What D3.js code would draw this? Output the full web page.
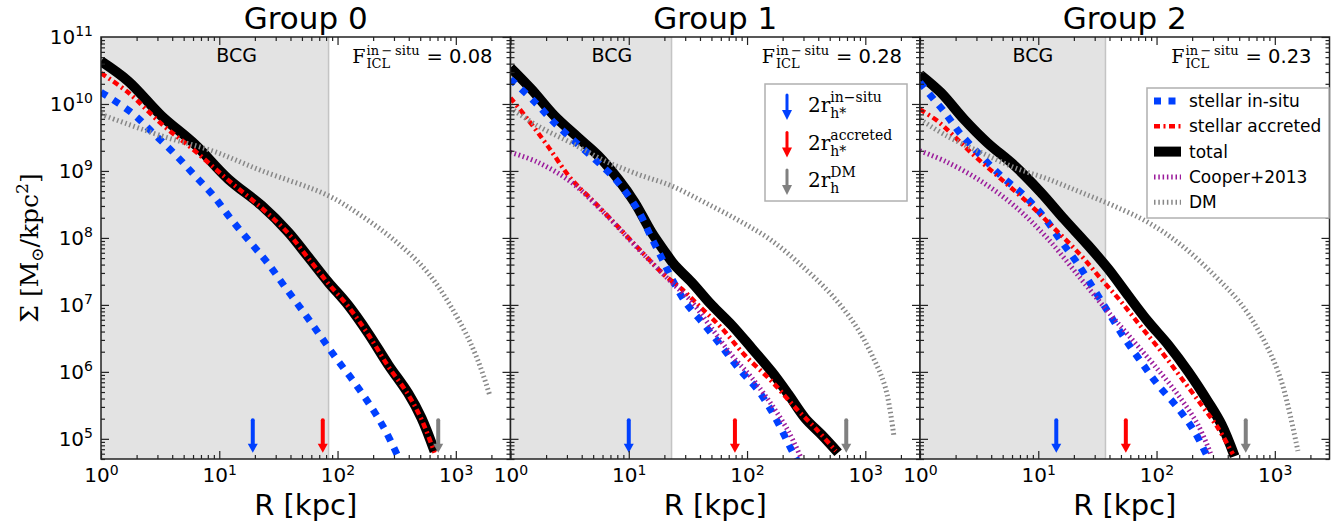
<!DOCTYPE html>
<html>
<head>
<meta charset="utf-8">
<script src="https://d3js.org/d3.v7.min.js"></script>
<style>
body { margin: 0; background: #fff; }
text { font-family: "DejaVu Sans", sans-serif; fill: #000; }
.serif { font-family: "DejaVu Serif", serif; }
</style>
</head>
<body>
<svg id="chart" width="1336" height="522"></svg>
<script>
// ---- data ----
const groupNames = ["Group 0", "Group 1", "Group 2"];
const ficlInSitu = ["0.08", "0.28", "0.23"];
const bcgRadius = [84, 23, 37];          // kpc, edge of shaded BCG region
const bcgLabelR = [14, 7.2, 9];          // kpc
const rInSituArrow = [19.2, 10, 14.2];
const rAccretedArrow = [75, 79, 55];
const rDMArrow = [710, 690, 568];
const xTicks = [1, 10, 100, 1000];
const yTicks = [1e5, 1e6, 1e7, 1e8, 1e9, 1e10, 1e11];

// Group 0
const totalR0 = [1, 1.70, 3.26, 6.2, 11.9, 22.8, 38.3, 56.5, 83.2, 123, 182, 269, 395, 513, 661];
const totalS0 = [4.35e10, 2.19e10, 6.6e9, 2.51e9, 7.6e8, 3.04e8, 1.22e8, 5.2e7, 2.2e7, 9.9e6, 3.75e6, 1.27e6, 4.8e5, 2.04e5, 6.5e4];
const insituR0 = [1, 1.82, 2.75, 4.22, 6.22, 8.9, 12.6, 18.2, 25.7, 35.9, 51.3, 70.8, 97.7, 140, 195, 251, 324];
const insituS0 = [1.5e10, 7.4e9, 3.7e9, 1.78e9, 8.5e8, 4.3e8, 1.9e8, 8.7e7, 4.2e7, 1.86e7, 7.9e6, 3.55e6, 1.58e6, 6.8e5, 2.9e5, 1.38e5, 5.5e4];
const accretedR0 = [1, 1.70, 3.26, 6.2, 11.9, 22.8, 38.3, 56.5, 83.2, 123, 182, 269, 395, 513, 661];
const accretedS0 = [2.9e10, 1.48e10, 5.0e9, 2.0e9, 7.3e8, 2.8e8, 1.17e8, 5.0e7, 2.1e7, 9.5e6, 3.6e6, 1.2e6, 4.6e5, 1.95e5, 6.2e4];
const dmR0 = [1, 3.26, 8.7, 22.8, 83.2, 158, 305, 589, 1117, 1549, 1950];
const dmS0 = [7.0e9, 3.33e9, 2.0e9, 1.01e9, 4.3e8, 2.16e8, 9.1e7, 2.93e7, 5.0e6, 1.43e6, 4.3e5];

// Group 1
const totalR1 = [1, 1.50, 2.36, 3.72, 5.50, 8.1, 11.2, 15.5, 20.2, 24.5, 33.9, 50.1, 74.1, 110, 162, 224, 309, 427, 589];
const totalS1 = [3.47e10, 1.66e10, 6.6e9, 3.16e9, 1.7e9, 7.6e8, 3.4e8, 1.23e8, 6.2e7, 3.9e7, 2.19e7, 1.0e7, 5.0e6, 2.24e6, 1.0e6, 4.6e5, 2.04e5, 1.15e5, 6.2e4];
const insituR1 = [1, 1.58, 2.36, 3.60, 5.50, 8.1, 12.0, 15.5, 18.9, 22.4, 29.9, 43.7, 61.0, 85.1, 126, 174, 240, 270];
const insituS1 = [2.34e10, 1.10e10, 5.2e9, 2.63e9, 1.35e9, 6.8e8, 2.57e8, 1.02e8, 5.1e7, 2.75e7, 1.12e7, 5.0e6, 2.4e6, 1.12e6, 5.1e5, 2.04e5, 6.6e4, 4.5e4];
const accretedR1 = [1, 1.40, 2.07, 3.26, 5.13, 8.7, 13.7, 20.2, 27.9, 41.3, 61.0, 95.5, 162, 257, 377, 562];
const accretedS1 = [1.23e10, 5.9e9, 2.34e9, 7.6e8, 3.4e8, 1.29e8, 5.5e7, 2.75e7, 1.74e7, 8.9e6, 4.5e6, 1.78e6, 7.2e5, 2.9e5, 1.45e5, 6.6e4];
const cooperR1 = [1, 1.70, 3.26, 6.3, 12.0, 22.9, 33.9, 50.1, 74.1, 110, 162, 224, 282];
const cooperS1 = [1.9e9, 1.35e9, 6.8e8, 2.29e8, 6.9e7, 2.19e7, 1.12e7, 4.5e6, 1.78e6, 8.1e5, 3.2e5, 1.29e5, 5.5e4];
const dmR1 = [1, 1.70, 3.26, 6.3, 12.0, 22.9, 43.7, 85.1, 162, 309, 525, 822, 1138, 1479, 1738];
const dmS1 = [8.7e9, 4.7e9, 2.63e9, 1.41e9, 8.9e8, 6.0e8, 3.4e8, 1.82e8, 9.1e7, 3.47e7, 1.38e7, 5.0e6, 1.78e6, 5.8e5, 1.15e5];

// Group 2
const totalR2 = [1, 1.50, 2.36, 3.72, 6.3, 10.5, 16.6, 26.3, 38.9, 57.5, 85.1, 126, 186, 272, 355, 457];
const totalS2 = [2.75e10, 1.48e10, 5.9e9, 2.63e9, 1.2e9, 4.8e8, 1.9e8, 7.8e7, 3.47e7, 1.38e7, 5.6e6, 2.51e6, 1.0e6, 3.6e5, 1.62e5, 5.5e4];
const insituR2 = [1, 1.31, 1.58, 1.88, 2.21, 3.26, 4.83, 7.6, 11.2, 15.5, 21.4, 29.9, 38.9, 53.7, 74.1, 102, 151, 209, 272];
const insituS2 = [2.09e10, 1.17e10, 7.9e9, 5.2e9, 3.55e9, 1.7e9, 8.5e8, 4.3e8, 2.04e8, 9.1e7, 4.2e7, 1.66e7, 7.9e6, 3.16e6, 1.41e6, 6.5e5, 2.9e5, 1.29e5, 5.2e4];
const accretedR2 = [1, 1.40, 1.94, 2.87, 4.83, 8.1, 13.7, 22.9, 33.9, 50.1, 74.1, 110, 162, 240, 331, 442];
const accretedS2 = [8.3e9, 5.6e9, 3.3e9, 1.7e9, 7.6e8, 3.4e8, 1.38e8, 5.5e7, 2.45e7, 1.12e7, 4.7e6, 2.0e6, 8.1e5, 3.2e5, 1.45e5, 5.9e4];
const cooperR2 = [1, 1.70, 3.26, 6.3, 12.0, 22.9, 38.9, 61.0, 95.5, 151, 224, 288];
const cooperS2 = [2.0e9, 1.35e9, 7.1e8, 3.0e8, 9.8e7, 2.45e7, 7.9e6, 3.16e6, 1.26e6, 4.6e5, 1.62e5, 5.9e4];
const dmR2 = [1, 1.70, 3.26, 6.3, 12.0, 22.9, 43.7, 85.1, 162, 309, 525, 822, 1138, 1567];
const dmS2 = [5.9e9, 3.3e9, 1.9e9, 1.12e9, 7.6e8, 4.8e8, 3.0e8, 1.7e8, 7.8e7, 2.75e7, 1.0e7, 2.8e6, 7.2e5, 6.6e4];

const zip = (a, b) => a.map((v, i) => [v, b[i]]);
const groups = [
  { total: zip(totalR0, totalS0), insitu: zip(insituR0, insituS0), accreted: zip(accretedR0, accretedS0), cooper: null, dm: zip(dmR0, dmS0) },
  { total: zip(totalR1, totalS1), insitu: zip(insituR1, insituS1), accreted: zip(accretedR1, accretedS1), cooper: zip(cooperR1, cooperS1), dm: zip(dmR1, dmS1) },
  { total: zip(totalR2, totalS2), insitu: zip(insituR2, insituS2), accreted: zip(accretedR2, accretedS2), cooper: zip(cooperR2, cooperS2), dm: zip(dmR2, dmS2) }
];

const styles = {
  total:    { color: "#000000", width: 10, dash: null },
  insitu:   { color: "#0040ff", width: 7, dash: "7,7.5" },
  accreted: { color: "#ff0000", width: 4.5, dash: "6,3.5,2,3.5" },
  cooper:   { color: "#9b1b9b", width: 5, dash: "1.5,2.8" },
  dm:       { color: "#888888", width: 5, dash: "1.5,2.8" }
};
const drawOrder = ["total", "insitu", "accreted", "cooper", "dm"];

// ---- layout ----
const svg = d3.select("#chart");
const plotTop = 37, plotBottom = 459, left0 = 101, pw = 409.5;
const y = d3.scaleLog().domain([5e4, 1e11]).range([plotBottom, plotTop]);

const yMinor = [];
for (let e = 4; e <= 10; e++) for (let k = 2; k <= 9; k++) { const v = k * Math.pow(10, e); if (v >= 5e4) yMinor.push(v); }
const xMinor = [];
for (let e = 0; e <= 3; e++) for (let k = 2; k <= 9; k++) { const v = k * Math.pow(10, e); if (v <= 2900) xMinor.push(v); }

function supLabels(sel, anchor) {
  sel.each(function(d) {
    const t = d3.select(this);
    t.text(null).attr("text-anchor", anchor).style("font-size", "20px").style("font-family", "DejaVu Sans");
    t.append("tspan").text("10");
    t.append("tspan").attr("dy", "-0.55em").style("font-size", "14px").text(Math.round(Math.log10(d)));
  });
}

function styleAxis(g) {
  g.select(".domain").remove();
  g.selectAll(".tick line").attr("stroke", "#222").attr("stroke-width", 1.2);
}

function arrow(g, cx, y1, y2, color, sw, hw, hh) {
  g.append("line").attr("x1", cx).attr("x2", cx).attr("y1", y1).attr("y2", y2 - hh + 1)
    .attr("stroke", color).attr("stroke-width", sw).attr("stroke-linecap", "round");
  g.append("path").attr("d", `M${cx - hw / 2},${y2 - hh}L${cx + hw / 2},${y2 - hh}L${cx},${y2}Z`).attr("fill", color);
}

groups.forEach((grp, i) => {
  const x0 = left0 + i * pw;
  const x = d3.scaleLog().domain([1, 2900]).range([x0, x0 + pw]);
  const g = svg.append("g");

  // clip
  svg.append("clipPath").attr("id", "clip" + i)
    .append("rect").attr("x", x0).attr("y", plotTop).attr("width", pw).attr("height", plotBottom - plotTop);
  const plot = g.append("g").attr("clip-path", `url(#clip${i})`);

  // BCG shaded region
  plot.append("rect").attr("x", x0).attr("y", plotTop).attr("width", x(bcgRadius[i]) - x0).attr("height", plotBottom - plotTop)
    .attr("fill", "#e3e3e3");
  plot.append("line").attr("x1", x(bcgRadius[i])).attr("x2", x(bcgRadius[i])).attr("y1", plotTop).attr("y2", plotBottom)
    .attr("stroke", "#c4c4c4").attr("stroke-width", 1.5);

  // curves
  const line = d3.line().x(d => x(d[0])).y(d => y(d[1])).curve(d3.curveCatmullRom.alpha(0.5));
  drawOrder.forEach(k => {
    if (!grp[k]) return;
    const s = styles[k];
    plot.append("path").attr("d", line(grp[k])).attr("fill", "none")
      .attr("stroke", s.color).attr("stroke-width", s.width)
      .attr("stroke-dasharray", s.dash).attr("stroke-linejoin", "round");
  });

  // arrows
  const aTop = y(1.9e5), aTip = y(6.2e4);
  arrow(plot, x(rInSituArrow[i]), aTop, aTip, "#0040ff", 4, 10, 9);
  arrow(plot, x(rAccretedArrow[i]), aTop, aTip, "#ff0000", 4, 10, 9);
  arrow(plot, x(rDMArrow[i]), aTop, aTip, "#808080", 4, 10, 9);

  // axes
  const gl = g.append("g").attr("transform", `translate(${x0},0)`)
    .call(d3.axisLeft(y).tickValues(yTicks.filter(v => v < 1e11)).tickSizeInner(-8).tickSizeOuter(0).tickPadding(8));
  styleAxis(gl);
  if (i === 0) supLabels(gl.selectAll(".tick text"), "end");
  else gl.selectAll(".tick text").remove();
  const glm = g.append("g").attr("transform", `translate(${x0},0)`)
    .call(d3.axisLeft(y).tickValues(yMinor).tickSizeInner(-4).tickSizeOuter(0).tickFormat(""));
  styleAxis(glm);
  const gr = g.append("g").attr("transform", `translate(${x0 + pw},0)`)
    .call(d3.axisRight(y).tickValues(yTicks).tickSizeInner(-8).tickSizeOuter(0).tickFormat(""));
  styleAxis(gr);
  const grm = g.append("g").attr("transform", `translate(${x0 + pw},0)`)
    .call(d3.axisRight(y).tickValues(yMinor).tickSizeInner(-4).tickSizeOuter(0).tickFormat(""));
  styleAxis(grm);

  const gb = g.append("g").attr("transform", `translate(0,${plotBottom})`)
    .call(d3.axisBottom(x).tickValues(xTicks).tickSizeInner(-8).tickSizeOuter(0).tickPadding(9));
  styleAxis(gb);
  supLabels(gb.selectAll(".tick text"), "middle");
  const gbm = g.append("g").attr("transform", `translate(0,${plotBottom})`)
    .call(d3.axisBottom(x).tickValues(xMinor).tickSizeInner(-4).tickSizeOuter(0).tickFormat(""));
  styleAxis(gbm);
  const gt = g.append("g").attr("transform", `translate(0,${plotTop})`)
    .call(d3.axisTop(x).tickValues(xTicks).tickSizeInner(-8).tickSizeOuter(0).tickFormat(""));
  styleAxis(gt);
  const gtm = g.append("g").attr("transform", `translate(0,${plotTop})`)
    .call(d3.axisTop(x).tickValues(xMinor).tickSizeInner(-4).tickSizeOuter(0).tickFormat(""));
  styleAxis(gtm);

  // frame
  g.append("rect").attr("x", x0).attr("y", plotTop).attr("width", pw).attr("height", plotBottom - plotTop)
    .attr("fill", "none").attr("stroke", "#222").attr("stroke-width", 1.5);

  // y tick label at the very top (10^11)
  if (i === 0) {
    const t = g.append("text").attr("x", x0 - 8).attr("y", y(1e11) + 7).attr("text-anchor", "end").style("font-size", "20px");
    t.append("tspan").text("10");
    t.append("tspan").attr("dy", "-0.55em").style("font-size", "14px").text("11");
  }

  // title and x label
  g.append("text").attr("x", x0 + pw / 2).attr("y", 29).attr("text-anchor", "middle").style("font-size", "31px").text(groupNames[i]);
  g.append("text").attr("x", x0 + pw / 2).attr("y", 515).attr("text-anchor", "middle").style("font-size", "29px").text("R [kpc]");

  // BCG label
  g.append("text").attr("x", x(bcgLabelR[i])).attr("y", 62).attr("text-anchor", "middle").style("font-size", "19px").text("BCG");

  // F_ICL annotation
  const rx = x0 + pw - 18;
  const eq = g.append("text").attr("x", rx).attr("y", 63).attr("text-anchor", "end").style("font-size", "19.5px").text("= " + ficlInSitu[i]);
  const eqW = eq.node().getComputedTextLength();
  const sx = rx - eqW - 7;
  const sup = g.append("text").attr("class", "serif").attr("x", sx).attr("y", 55).style("font-size", "13px").text("in\u2009\u2212\u2009situ");
  const sub = g.append("text").attr("class", "serif").attr("x", sx).attr("y", 68).style("font-size", "13px").text("ICL");
  const supW = sup.node().getComputedTextLength();
  sup.attr("x", sx - supW);
  sub.attr("x", sx - supW);
  g.append("text").attr("class", "serif").attr("x", sx - supW - 1).attr("y", 63).attr("text-anchor", "end").style("font-size", "19px").text("F");
});

// y axis label
const yl = svg.append("text").attr("class", "serif").attr("transform", "translate(38,248) rotate(-90)")
  .attr("text-anchor", "middle").style("font-size", "25px");
yl.append("tspan").text("\u03A3 [M");
yl.append("tspan").attr("dy", 5).style("font-size", "17px").text("\u2299");
yl.append("tspan").attr("dy", -5).text("/kpc");
yl.append("tspan").attr("dy", -10).style("font-size", "17px").text("2");
yl.append("tspan").attr("dy", 10).text("]");

// legend 1 (arrows) in group 1 panel
const l1 = svg.append("g");
l1.append("rect").attr("x", 765).attr("y", 84).attr("width", 142).attr("height", 117)
  .attr("fill", "#fff").attr("stroke", "#b0b0b0").attr("stroke-width", 1.5);
const arrowLegend = [
  { color: "#0040ff", sup: "in\u2212situ", sub: "h*" },
  { color: "#ff0000", sup: "accreted", sub: "h*" },
  { color: "#808080", sup: "DM", sub: "h" }
];
arrowLegend.forEach((d, k) => {
  const yc = 95 + k * 37.5;
  arrow(l1, 787, yc, yc + 25, d.color, 3, 10, 10);
  const t = l1.append("text").attr("class", "serif").attr("x", 808).attr("y", yc + 17).style("font-size", "20px").text("2r");
  const w = t.node().getComputedTextLength();
  l1.append("text").attr("class", "serif").attr("x", 808 + w).attr("y", yc + 7).style("font-size", "14px").text(d.sup);
  l1.append("text").attr("class", "serif").attr("x", 808 + w).attr("y", yc + 23).style("font-size", "14px").text(d.sub);
});

// legend 2 (lines) in group 2 panel
const l2 = svg.append("g");
l2.append("rect").attr("x", 1147).attr("y", 88).attr("width", 182).attr("height", 130)
  .attr("fill", "#fff").attr("stroke", "#b0b0b0").attr("stroke-width", 1.5);
const lineLegend = [
  { key: "insitu", label: "stellar in-situ" },
  { key: "accreted", label: "stellar accreted" },
  { key: "total", label: "total" },
  { key: "cooper", label: "Cooper+2013" },
  { key: "dm", label: "DM" }
];
lineLegend.forEach((d, k) => {
  const yc = 101 + k * 25.3;
  const s = styles[d.key];
  l2.append("line").attr("x1", 1154).attr("x2", 1181).attr("y1", yc).attr("y2", yc)
    .attr("stroke", s.color).attr("stroke-width", s.width).attr("stroke-dasharray", s.dash);
  l2.append("text").attr("x", 1189).attr("y", yc + 6).style("font-size", "17px").text(d.label);
});
</script>
</body>
</html>
